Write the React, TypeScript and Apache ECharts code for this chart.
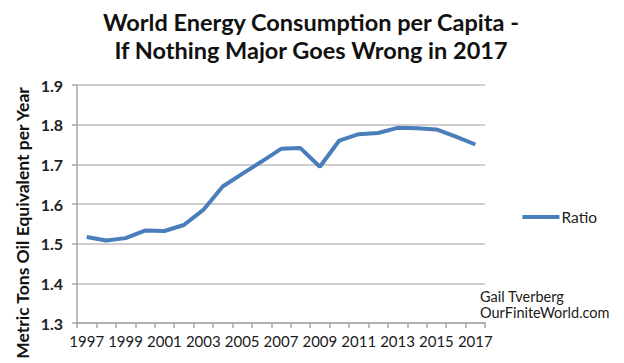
import React, { useEffect, useRef } from "react";
import * as echarts from "echarts";

const years = ["1997","1998","1999","2000","2001","2002","2003","2004","2005","2006","2007","2008","2009","2010","2011","2012","2013","2014","2015","2016","2017"];
const ratio = [1.517,1.508,1.514,1.533,1.532,1.547,1.585,1.644,1.676,1.707,1.739,1.741,1.694,1.760,1.776,1.779,1.792,1.791,1.788,1.770,1.750];
const titleLines = ["World Energy Consumption per Capita -", "If Nothing Major Goes Wrong in 2017"];
const yAxisName = "Metric Tons Oil Equivalent per Year";
const credits = ["Gail Tverberg", "OurFiniteWorld.com"];

const FONT = "Lato, 'Open Sans', sans-serif";

export default function App() {
  const ref = useRef<HTMLDivElement>(null);
  useEffect(() => {
    if (!ref.current) return;
    const chart = echarts.init(ref.current, undefined, { renderer: "svg" });
    chart.setOption({
      animation: false,
      backgroundColor: "#ffffff",
      title: {
        text: titleLines.join("\n"),
        left: 306,
        top: 3,
        textAlign: "center",
        textStyle: { fontFamily: FONT, fontWeight: "bold", fontSize: 23.5, lineHeight: 28, color: "#111" },
      },
      legend: {
        right: 22,
        top: 204,
        orient: "vertical",
        itemWidth: 37,
        itemHeight: 4,
        icon: "rect",
        textStyle: { fontFamily: FONT, fontSize: 15.5, color: "#222", padding: [0, 0, 0, -3] },
        data: ["Ratio"],
      },
      grid: { left: 77, right: 139, top: 85, bottom: 40 },
      xAxis: {
        type: "category",
        data: years,
        boundaryGap: true,
        axisLine: { lineStyle: { color: "#a6a6a6", width: 1.5 } },
        axisTick: { show: true, interval: 0, length: 5, lineStyle: { color: "#a6a6a6", width: 1.5 } },
        axisLabel: { interval: 1, fontFamily: FONT, fontSize: 15, color: "#1a1a1a", margin: 10 },
      },
      yAxis: {
        type: "value",
        min: 1.3,
        max: 1.9,
        interval: 0.1,
        axisLine: { show: true, lineStyle: { color: "#a6a6a6", width: 1.5 } },
        axisTick: { show: true, length: 5, lineStyle: { color: "#a6a6a6", width: 1.5 } },
        splitLine: { lineStyle: { color: "#bfbfbf", width: 1.5 } },
        axisLabel: {
          fontFamily: FONT, fontSize: 16, fontWeight: "bold", color: "#222", margin: 14,
          formatter: (v: number) => v.toFixed(1),
        },
      },
      series: [
        {
          name: "Ratio",
          type: "line",
          data: ratio,
          symbol: "none",
          lineStyle: { color: "#4a7ebb", width: 4 },
          itemStyle: { color: "#4a7ebb" },
        },
      ],
      graphic: [
        {
          type: "text",
          x: 22,
          y: 223,
          rotation: Math.PI / 2,
          style: {
            text: yAxisName, fontFamily: FONT, fontWeight: "bold", fontSize: 17.5, fill: "#111",
            align: "center", verticalAlign: "middle",
          },
        },
        {
          type: "text",
          left: 480,
          top: 289,
          style: { text: credits[0], fontFamily: FONT, fontSize: 14.5, lineHeight: 15, fill: "#1a1a1a" },
        },
        {
          type: "text",
          left: 480,
          top: 305,
          style: { text: credits[1], fontFamily: FONT, fontSize: 14.5, lineHeight: 15, fill: "#1a1a1a" },
        },
      ],
    });
    return () => chart.dispose();
  }, []);
  return <div ref={ref} style={{ width: 624, height: 363, position: "absolute", left: 0, top: 0 }} />;
}
